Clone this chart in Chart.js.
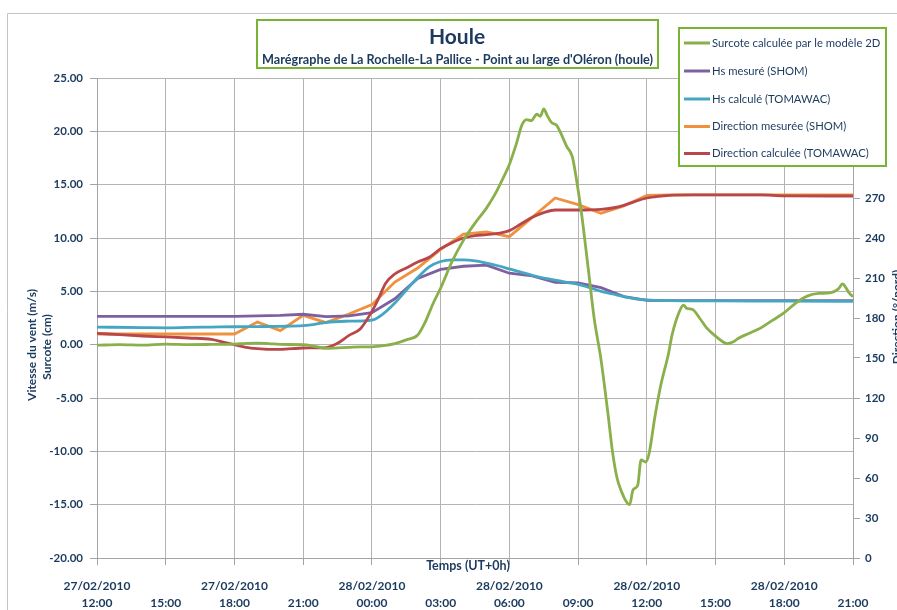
<!DOCTYPE html>
<html>
<head>
<meta charset="utf-8">
<title>Houle</title>
<script src="https://cdn.jsdelivr.net/npm/chart.js@4.4.1/dist/chart.umd.min.js"></script>
<style>
  html, body { margin: 0; padding: 0; background: #ffffff; }
  canvas { display: block; }
</style>
</head>
<body>
<canvas id="chart" width="897" height="610"></canvas>
<script>
// Time axis: hours since 27/02/2010 12:00 (UT+0h)
const tickHours = [0, 3, 6, 9, 12, 15, 18, 21, 24, 27, 30, 33];
const tickDates = ['27/02/2010', '', '27/02/2010', '', '28/02/2010', '', '28/02/2010', '', '28/02/2010', '', '28/02/2010', ''];
const tickTimes = ['12:00', '15:00', '18:00', '21:00', '00:00', '03:00', '06:00', '09:00', '12:00', '15:00', '18:00', '21:00'];

// Surcote calculée par le modèle 2D (cm)
const surcoteHours = [0, 1, 2, 3, 4, 5, 6, 6.5, 7, 7.5, 8, 9, 9.5, 10, 10.5, 11, 11.5, 12, 12.5, 13, 13.5, 14, 14.3, 14.7, 15, 15.5, 16, 16.5, 17, 17.4, 17.7, 18, 18.3, 18.55, 18.75, 18.95, 19.2, 19.35, 19.5, 19.65, 19.85, 20.05, 20.25, 20.5, 20.75, 20.95, 21.15, 21.45, 21.7, 22, 22.3, 22.5, 22.7, 22.9, 23.1, 23.25, 23.4, 23.6, 23.75, 23.95, 24.1, 24.35, 24.6, 24.95, 25.1, 25.4, 25.6, 25.75, 26, 26.3, 26.6, 27, 27.3, 27.5, 27.8, 28, 28.5, 29, 29.5, 30, 30.5, 31, 31.5, 32, 32.35, 32.55, 32.7, 32.85, 33];
const surcoteValues = [-0.05, 0.0, -0.05, 0.05, 0.0, 0.02, 0.05, 0.12, 0.15, 0.1, 0.02, 0.0, -0.15, -0.35, -0.3, -0.25, -0.2, -0.2, -0.1, 0.1, 0.45, 0.9, 2.0, 4.0, 5.3, 7.8, 9.8, 11.4, 12.8, 14.2, 15.5, 16.9, 18.8, 20.6, 21.1, 21.0, 21.6, 21.4, 22.1, 21.5, 20.8, 20.6, 19.8, 18.6, 17.6, 15.2, 12.3, 7.0, 2.5, -1.4, -6.4, -10.0, -12.5, -13.8, -14.7, -15.0, -13.6, -13.2, -10.8, -11.0, -10.2, -6.8, -3.9, -0.8, 0.9, 3.0, 3.7, 3.4, 3.3, 2.5, 1.6, 0.8, 0.3, 0.1, 0.3, 0.6, 1.1, 1.6, 2.3, 3.0, 3.9, 4.55, 4.8, 4.85, 5.2, 5.7, 5.3, 4.8, 4.5];

// Hs mesuré (SHOM), hourly (m)
const hsMesureHours = [0, 1, 2, 3, 4, 5, 6, 7, 8, 9, 10, 11, 12, 13, 14, 15, 16, 17, 18, 19, 20, 21, 22, 23, 24, 25, 26, 27, 28, 29, 30, 31, 32, 33];
const hsMesureValues = [2.65, 2.65, 2.65, 2.65, 2.65, 2.65, 2.65, 2.7, 2.75, 2.85, 2.62, 2.7, 3.0, 4.3, 6.2, 7.05, 7.35, 7.45, 6.7, 6.45, 5.85, 5.8, 5.35, 4.5, 4.15, 4.13, 4.13, 4.13, 4.13, 4.13, 4.13, 4.13, 4.13, 4.13];

// Hs calculé (TOMAWAC) (m)
const hsCalculeHours = [0, 2, 3, 4, 5, 6, 7, 8, 9, 9.5, 10, 11, 12, 12.5, 13, 13.5, 14, 14.5, 15, 15.5, 16, 16.5, 17, 17.5, 18, 18.5, 19, 19.5, 20, 20.5, 21, 21.5, 22, 22.5, 23, 23.5, 24, 25, 27, 30, 33];
const hsCalculeValues = [1.65, 1.6, 1.58, 1.62, 1.65, 1.68, 1.7, 1.72, 1.78, 1.9, 2.1, 2.2, 2.3, 2.9, 3.9, 5.1, 6.3, 7.3, 7.8, 7.95, 7.95, 7.85, 7.65, 7.4, 7.1, 6.8, 6.5, 6.25, 6.05, 5.85, 5.65, 5.35, 5.0, 4.75, 4.5, 4.3, 4.2, 4.13, 4.1, 4.08, 4.05];

// Direction mesurée (SHOM), hourly (°/nord)
const dirMesureHours = [0, 1, 2, 3, 4, 5, 6, 7, 8, 9, 10, 11, 12, 13, 14, 15, 16, 17, 18, 19, 20, 21, 22, 23, 24, 25, 26, 27, 28, 29, 30, 31, 32, 33];
const dirMesureValues = [168, 168, 168, 168, 168, 168, 168, 177, 170.5, 182, 176.5, 183, 190, 207, 217.5, 231.5, 243, 244.5, 241, 255.5, 270, 265, 258.5, 264, 272, 272.3, 272.3, 272.3, 272.3, 272.3, 272.3, 272.3, 272.3, 272.3];

// Direction calculée (TOMAWAC) (°/nord)
const dirCalculeHours = [0, 1, 2, 3, 4, 5, 5.5, 6, 6.5, 7, 7.5, 8, 9, 10, 10.5, 11, 11.5, 12, 12.3, 12.6, 13, 13.5, 14, 14.5, 15, 15.5, 16, 16.5, 17, 17.5, 18, 18.5, 19, 19.5, 20, 21, 22, 22.5, 23, 23.5, 24, 24.5, 25, 26, 29, 30, 33];
const dirCalculeValues = [168.5, 167.5, 166.5, 165.8, 165, 164, 162, 160, 158, 157, 156.5, 156.5, 157.5, 157.8, 161, 167, 172, 185, 195, 206, 213, 217.5, 222, 225.5, 232, 236.5, 240, 241.8, 242.5, 243.5, 245.5, 250.5, 255.5, 259, 261, 261, 261.5, 262.5, 264.5, 267.5, 270, 271.3, 272, 272.3, 272.3, 271.6, 271.5];

const TEXT = '#1b3a5e';
const FONT = 'Lato, "Open Sans", sans-serif';
const FRAME_GREEN = '#78b434';
const GRID = '#b4b4b4';
const AXIS = '#a4a4a4';

function pairs(hours, values) {
  return hours.map((h, i) => ({ x: h, y: values[i] }));
}

// Background, outer frame, title box, legend box and axis titles
const decor = {
  id: 'decor',
  beforeDraw(chart) {
    const ctx = chart.ctx;
    ctx.save();
    ctx.fillStyle = '#ffffff';
    ctx.fillRect(0, 0, chart.width, chart.height);
    ctx.strokeStyle = '#c4c4c4';
    ctx.lineWidth = 1;
    ctx.beginPath();
    ctx.moveTo(7.5, chart.height);
    ctx.lineTo(7.5, 13.5);
    ctx.lineTo(chart.width, 13.5);
    ctx.stroke();
    ctx.restore();
  },
  afterDraw(chart) {
    const ctx = chart.ctx;
    ctx.save();

    // Title box
    ctx.fillStyle = '#ffffff';
    ctx.fillRect(257, 20, 401, 48);
    ctx.strokeStyle = FRAME_GREEN;
    ctx.lineWidth = 2;
    ctx.strokeRect(257, 20, 401, 48);
    ctx.fillStyle = TEXT;
    ctx.textAlign = 'center';
    ctx.textBaseline = 'middle';
    ctx.font = 'bold 21px ' + FONT;
    ctx.fillText('Houle', 457, 37);
    ctx.font = 'bold 13px ' + FONT;
    ctx.fillText("Marégraphe de La Rochelle-La Pallice - Point au large d'Oléron (houle)", 457.5, 59.5, 391);

    // Legend box
    ctx.fillStyle = '#ffffff';
    ctx.fillRect(679, 28, 207, 138);
    ctx.strokeStyle = FRAME_GREEN;
    ctx.lineWidth = 2;
    ctx.strokeRect(679, 28, 207, 138);
    ctx.textAlign = 'left';
    ctx.font = '12px ' + FONT;
    const rows = [43, 71, 99, 126.5, 153.5];
    chart.data.datasets.forEach((ds, i) => {
      const y = rows[i];
      ctx.strokeStyle = ds.borderColor;
      ctx.lineWidth = 3;
      ctx.beginPath();
      ctx.moveTo(684, y);
      ctx.lineTo(710, y);
      ctx.stroke();
      ctx.fillStyle = TEXT;
      const w = ctx.measureText(ds.label).width;
      ctx.fillText(ds.label, 712, y, w * 0.94);
    });

    // Axis titles
    ctx.fillStyle = TEXT;
    ctx.font = 'bold 12.5px ' + FONT;
    ctx.textAlign = 'center';
    ctx.textBaseline = 'middle';
    ctx.fillText('Temps (UT+0h)', 468, 566);

    ctx.font = 'bold 12px ' + FONT;
    ctx.save();
    ctx.translate(32, 345);
    ctx.rotate(-Math.PI / 2);
    ctx.fillText('Vitesse du vent (m/s)', 0, 0);
    ctx.restore();

    ctx.save();
    ctx.translate(47, 347);
    ctx.rotate(-Math.PI / 2);
    ctx.fillText('Surcote (cm)', 0, 0);
    ctx.restore();

    ctx.save();
    ctx.translate(897, 317);
    ctx.rotate(-Math.PI / 2);
    ctx.fillText('Direction (°/nord)', 0, 0);
    ctx.restore();

    ctx.restore();
  }
};

const line = (label, color, data, axis, order, smooth) => ({
  label,
  data,
  yAxisID: axis,
  borderColor: color,
  backgroundColor: color,
  borderWidth: 2.8,
  pointRadius: 0,
  fill: false,
  order,
  tension: 0,
  cubicInterpolationMode: smooth ? 'monotone' : 'default'
});

new Chart(document.getElementById('chart'), {
  type: 'line',
  data: {
    datasets: [
      line('Surcote calculée par le modèle 2D', '#89b04a', pairs(surcoteHours, surcoteValues), 'y', 0, true),
      line('Hs mesuré (SHOM)', '#7d60a0', pairs(hsMesureHours, hsMesureValues), 'y', 3, false),
      line('Hs calculé (TOMAWAC)', '#45a6c2', pairs(hsCalculeHours, hsCalculeValues), 'y', 2, true),
      line('Direction mesurée (SHOM)', '#f0913f', pairs(dirMesureHours, dirMesureValues), 'y2', 4, false),
      line('Direction calculée (TOMAWAC)', '#b9474a', pairs(dirCalculeHours, dirCalculeValues), 'y2', 1, true)
    ]
  },
  options: {
    responsive: false,
    animation: false,
    devicePixelRatio: 1,
    layout: { padding: { top: 78, left: 0, right: 0, bottom: 0 } },
    plugins: { legend: { display: false }, title: { display: false }, tooltip: { enabled: false } },
    scales: {
      x: {
        type: 'linear',
        min: 0,
        max: 33,
        afterBuildTicks(scale) { scale.ticks = tickHours.map(v => ({ value: v })); },
        afterFit(scale) { scale.height = 52; },
        ticks: {
          autoSkip: false,
          maxRotation: 0,
          padding: 13,
          color: TEXT,
          font: { family: FONT, size: 12, weight: 'bold', lineHeight: 1.4 },
          callback(value) {
            const i = tickHours.indexOf(value);
            return [tickDates[i], tickTimes[i]];
          }
        },
        grid: { color: GRID, borderDash: [2, 2], tickLength: 7, tickColor: AXIS, tickBorderDash: [] },
        border: { color: AXIS, width: 1 }
      },
      y: {
        position: 'left',
        min: -20,
        max: 25,
        afterFit(scale) { scale.width = 97; },
        ticks: {
          stepSize: 5,
          padding: 7,
          color: TEXT,
          font: { family: FONT, size: 11.5, weight: 'bold' },
          callback: v => v.toFixed(2)
        },
        grid: { color: GRID, borderDash: [2, 2], tickLength: 7, tickColor: AXIS, tickBorderDash: [] },
        border: { color: AXIS, width: 1 }
      },
      y2: {
        position: 'right',
        min: 0,
        max: 360,
        afterFit(scale) { scale.width = 44; },
        ticks: {
          stepSize: 30,
          padding: 5,
          color: TEXT,
          font: { family: FONT, size: 11.5, weight: 'bold' }
        },
        grid: { drawOnChartArea: false, tickLength: 7, tickColor: AXIS },
        border: { color: AXIS, width: 1 }
      }
    }
  },
  plugins: [decor]
});
</script>
</body>
</html>
